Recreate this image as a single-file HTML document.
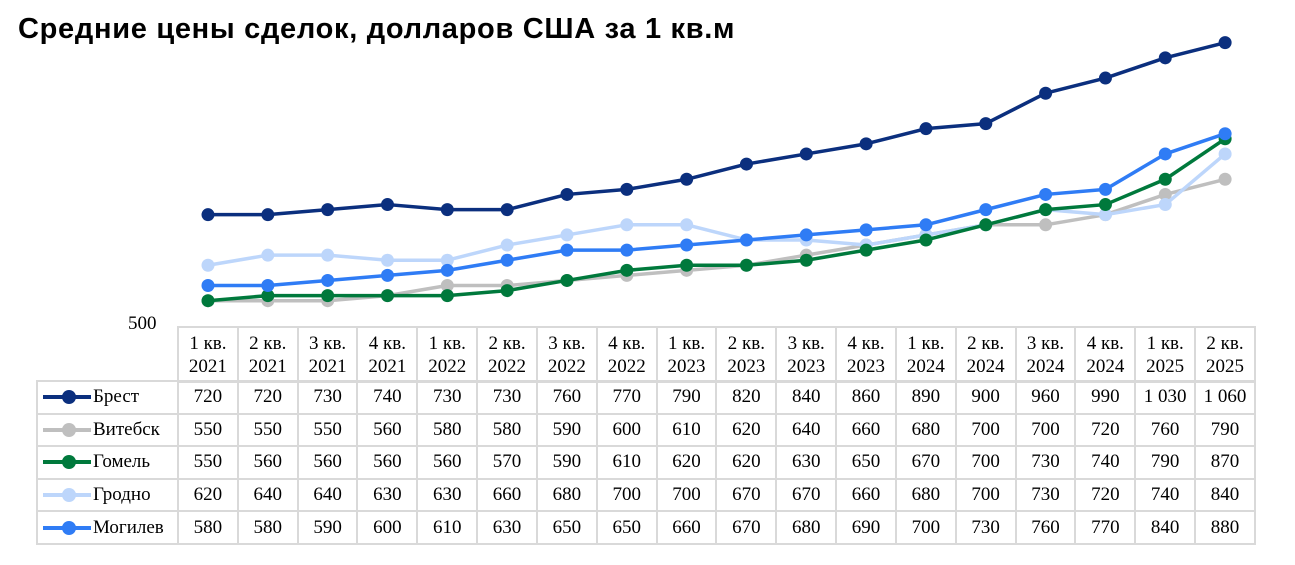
<!DOCTYPE html>
<html><head><meta charset="utf-8"><style>
body{margin:0;background:#fff;width:1295px;height:565px;position:relative;overflow:hidden}
.t{position:absolute;left:18px;top:13px;font:bold 29px "Liberation Sans",sans-serif;color:#000;white-space:nowrap;letter-spacing:0.7px}
table{position:absolute;border-collapse:collapse;table-layout:fixed;font:19px "Liberation Serif",serif;color:#000}
td{border:2px solid #d9d9d9;text-align:center;padding:0;box-sizing:border-box;white-space:nowrap;overflow:visible}
#hd{left:177px;top:326px;width:1077px}
#hd td{height:55px;line-height:23px}
#bd{left:36px;top:380px;width:1218px}
#bd td{height:32.6px;line-height:24px}
#bd td.l{text-align:left;position:relative;padding-left:55px}
.mk{position:absolute;left:5px;top:50%;width:48px;height:4px;margin-top:-2px}
.mk i{position:absolute;left:19px;top:-5px;width:14px;height:14px;border-radius:50%;background:inherit}
.y5{position:absolute;left:128px;top:313px;font:19px "Liberation Serif",serif}
</style></head><body>
<div class="t">Средние цены сделок, долларов США за 1 кв.м</div>
<div class="y5">500</div>
<svg id="s" width="1295" height="565" style="position:absolute;left:0;top:0"></svg>
<table id="hd"><colgroup><col span="18" style="width:59.83px"></colgroup><tr>
<td>1 кв.<br>2021</td><td>2 кв.<br>2021</td><td>3 кв.<br>2021</td><td>4 кв.<br>2021</td><td>1 кв.<br>2022</td><td>2 кв.<br>2022</td><td>3 кв.<br>2022</td><td>4 кв.<br>2022</td><td>1 кв.<br>2023</td><td>2 кв.<br>2023</td><td>3 кв.<br>2023</td><td>4 кв.<br>2023</td><td>1 кв.<br>2024</td><td>2 кв.<br>2024</td><td>3 кв.<br>2024</td><td>4 кв.<br>2024</td><td>1 кв.<br>2025</td><td>2 кв.<br>2025</td></tr></table>
<table id="bd"><colgroup><col style="width:141px"><col span="18" style="width:59.83px"></colgroup>
<tr><td class="l"><span class="mk" style="background:#0b2f7e"><i></i></span>Брест</td><td>720</td><td>720</td><td>730</td><td>740</td><td>730</td><td>730</td><td>760</td><td>770</td><td>790</td><td>820</td><td>840</td><td>860</td><td>890</td><td>900</td><td>960</td><td>990</td><td>1 030</td><td>1 060</td></tr>
<tr><td class="l"><span class="mk" style="background:#bfbfbf"><i></i></span>Витебск</td><td>550</td><td>550</td><td>550</td><td>560</td><td>580</td><td>580</td><td>590</td><td>600</td><td>610</td><td>620</td><td>640</td><td>660</td><td>680</td><td>700</td><td>700</td><td>720</td><td>760</td><td>790</td></tr>
<tr><td class="l"><span class="mk" style="background:#00793c"><i></i></span>Гомель</td><td>550</td><td>560</td><td>560</td><td>560</td><td>560</td><td>570</td><td>590</td><td>610</td><td>620</td><td>620</td><td>630</td><td>650</td><td>670</td><td>700</td><td>730</td><td>740</td><td>790</td><td>870</td></tr>
<tr><td class="l"><span class="mk" style="background:#bdd6fb"><i></i></span>Гродно</td><td>620</td><td>640</td><td>640</td><td>630</td><td>630</td><td>660</td><td>680</td><td>700</td><td>700</td><td>670</td><td>670</td><td>660</td><td>680</td><td>700</td><td>730</td><td>720</td><td>740</td><td>840</td></tr>
<tr><td class="l"><span class="mk" style="background:#2f7cf5"><i></i></span>Могилев</td><td>580</td><td>580</td><td>590</td><td>600</td><td>610</td><td>630</td><td>650</td><td>650</td><td>660</td><td>670</td><td>680</td><td>690</td><td>700</td><td>730</td><td>760</td><td>770</td><td>840</td><td>880</td></tr>
</table>
<script>
var S=[["#bfbfbf",[550,550,550,560,580,580,590,600,610,620,640,660,680,700,700,720,760,790]],
["#bdd6fb",[620,640,640,630,630,660,680,700,700,670,670,660,680,700,730,720,740,840]],
["#00793c",[550,560,560,560,560,570,590,610,620,620,630,650,670,700,730,740,790,870]],
["#2f7cf5",[580,580,590,600,610,630,650,650,660,670,680,690,700,730,760,770,840,880]],
["#0b2f7e",[720,720,730,740,730,730,760,770,790,820,840,860,890,900,960,990,1030,1060]]];
var h="";
S.forEach(function(s){var p=s[1].map(function(v,i){return [208+i*59.83,326-(v-500)*0.506]});
h+='<polyline fill="none" stroke="'+s[0]+'" stroke-width="3.5" stroke-linejoin="round" points="'+p.map(function(q){return q.join(",")}).join(" ")+'"/>';
p.forEach(function(q){h+='<circle cx="'+q[0]+'" cy="'+q[1]+'" r="6.5" fill="'+s[0]+'"/>'});});
document.getElementById("s").innerHTML=h;
</script>
</body></html>
